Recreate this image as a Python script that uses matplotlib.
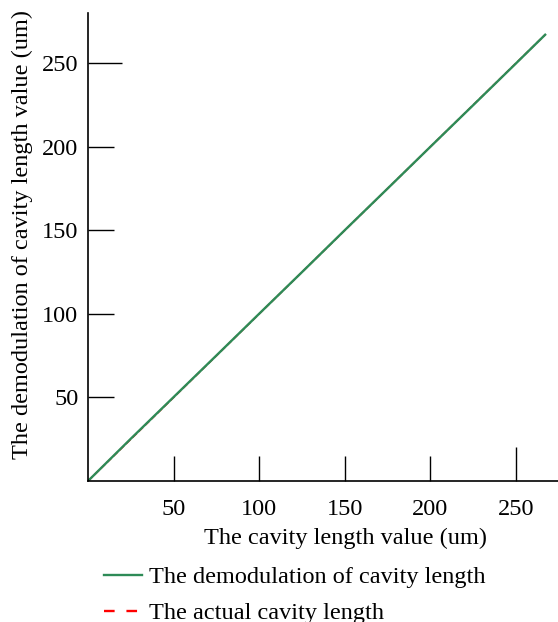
import numpy as np
import matplotlib.pyplot as plt
from matplotlib.lines import Line2D

plt.rcParams['font.family'] = ['Liberation Serif', 'DejaVu Serif']

# cavity length values (um)
actual_len = [0, 25, 50, 75, 100, 125, 150, 175, 200, 225, 250, 267]
demod_len = [0, 25.3, 50.2, 75.1, 100.1, 125.0, 150.1, 175.0, 200.0, 224.9, 249.9, 267]
xticks = [50, 100, 150, 200, 250]
yticks = [50, 100, 150, 200, 250]

fs = 17.5

fig = plt.figure(figsize=(5.58, 6.22), dpi=100)
ax = fig.add_axes([88/558, 141/622, 470/558, 468/622])

ax.plot(actual_len, actual_len, color='red', linestyle='--', lw=1.2)
ax.plot(actual_len, demod_len, color='#2e8b57', lw=1.7)

ax.set_xlim(0, 274.5)
ax.set_ylim(0, 280)
ax.set_xticks(xticks)
ax.set_yticks(yticks)
ax.spines['top'].set_visible(False)
ax.spines['right'].set_visible(False)
for s in ['left', 'bottom']:
    ax.spines[s].set_linewidth(1.2)

ax.tick_params(axis='y', direction='in', length=18.5, width=1, pad=7, labelsize=fs)
ax.tick_params(axis='x', direction='in', length=18, width=1, pad=13, labelsize=fs)
# the last tick on each axis is drawn a bit longer
ax.yaxis.get_major_ticks()[-1].tick1line.set_markersize(24.5)
ax.xaxis.get_major_ticks()[-1].tick1line.set_markersize(24.5)

ax.set_xlabel('The cavity length value (um)', fontsize=fs)
ax.set_ylabel('The demodulation of cavity length value (um)', fontsize=fs)
ax.xaxis.set_label_coords((345 - 88) / 470, -47 / 468)
ax.yaxis.set_label_coords(-55 / 470, (481 - 235) / 468)

handles = [Line2D([], [], color='#2e8b57', lw=1.7),
           Line2D([], [], color='red', lw=1.7, linestyle=(0, (4.5, 5)))]
fig.legend(handles, ['The demodulation of cavity length', 'The actual cavity length'],
           loc='upper left', bbox_to_anchor=(104/558, 1 - 566/622), frameon=False,
           fontsize=fs, handlelength=1.55, handletextpad=0.3, labelspacing=0.58,
           borderaxespad=0, borderpad=0)

fig.savefig('out.png', dpi=100)
